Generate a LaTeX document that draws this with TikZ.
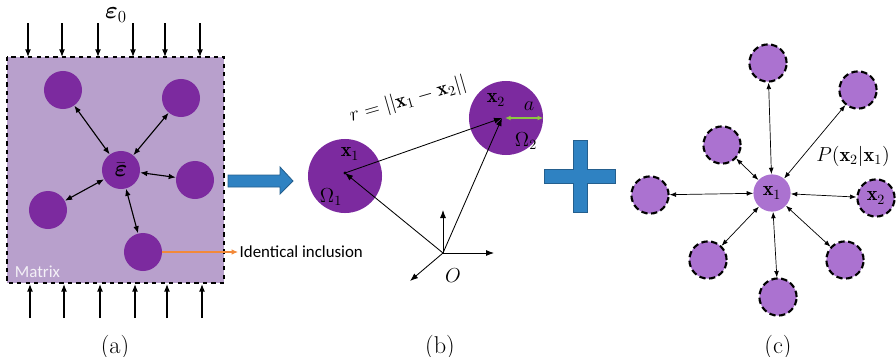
\documentclass[tikz,border=0pt]{standalone}
\usepackage{amsmath}
\usepackage{amssymb}
\usepackage{fontspec}
\newfontfamily\calfont{Carlito}
\usetikzlibrary{arrows.meta,positioning,calc}
\definecolor{matrixfill}{HTML}{B8A0CC}
\definecolor{deeppurple}{HTML}{7C2A9F}
\definecolor{lightpurple}{HTML}{AB72D0}
\definecolor{arrowblue}{HTML}{2F82C2}
\definecolor{arrowedge}{HTML}{245F8E}
\definecolor{orangeln}{HTML}{F2893A}
\definecolor{greenln}{HTML}{8DC641}
\tikzset{
  incl/.style={circle, fill=deeppurple, minimum size=0.95cm, inner sep=0pt},
  bigincl/.style={circle, fill=deeppurple, minimum size=1.85cm, inner sep=0pt},
  nbr/.style={circle, fill=lightpurple, draw=black, line width=1.5pt, dash pattern=on 4.5pt off 2.5pt, minimum size=0.93cm, inner sep=0pt},
  ctr/.style={circle, fill=lightpurple, minimum size=0.93cm, inner sep=0pt},
  load/.style={-{Latex[length=1.9mm,width=1.5mm]}, line width=.9pt},
  dar/.style={{Latex[length=1.8mm,width=1.4mm]}-{Latex[length=1.8mm,width=1.4mm]}, line width=.8pt},
  tar/.style={{Latex[length=1.6mm,width=1.2mm]}-{Latex[length=1.6mm,width=1.2mm]}, line width=.5pt},
  ar/.style={-{Latex[length=2mm,width=1.5mm]}, line width=.6pt},
  blueshape/.style={fill=arrowblue, draw=arrowedge, line width=.6pt},
  lbl/.style={font=\Large},
  captxt/.style={font=\LARGE},
}
\begin{document}
\begin{tikzpicture}[x=0.025cm, y=-0.025cm]
  \useasboundingbox (0,0) rectangle (896,356);

  % (a) matrix with inclusions
  \draw[fill=matrixfill, dashed, line width=.8pt] (7,57) rectangle (224,283);
  \foreach \x in {28,62,98,133,165,200} \draw[load] (\x,23) -- (\x,57);
  \foreach \x in {30,64,100,135,167,202} \draw[load] (\x,318) -- (\x,284);
  \node[font=\LARGE] (eps0) at (116,15) {$\boldsymbol{\varepsilon}_0$};
  \node[incl] (ec) at (121,170) {\LARGE$\bar{\boldsymbol{\varepsilon}}$};
  \node[incl] (i1) at (63,90) {};
  \node[incl] (i2) at (181,98) {};
  \node[incl] (i3) at (195,180) {};
  \node[incl] (i4) at (48,210) {};
  \node[incl] (i5) at (143,252) {};
  \foreach \n in {i1,i2,i3,i4,i5} \draw[dar] (ec) -- (\n);
  \node[font=\calfont\large, text=white!85!matrixfill, anchor=west] (mat) at (10,272) {Matrix};
  \node[font=\calfont\large, anchor=west, inner sep=1pt] (ident) at (238,252) {Identical inclusion};
  \draw[-{Latex[length=1.6mm,width=1.4mm]}, orangeln, line width=.8pt] (i5.east) -- (ident.west);

  % blue arrow
  \draw[blueshape] (228,175) -- (280,175) -- (280,167) -- (293,181) -- (280,194) -- (280,187) -- (228,187) -- cycle;

  % (b) two inclusions
  \node[bigincl] (om1) at (345,176) {};
  \node[bigincl] (om2) at (506,118) {};
  \coordinate (x1) at (345,173);
  \coordinate (x2) at (502,118);
  \coordinate (O) at (443,253);
  \coordinate (Oy) at (443,210);
  \coordinate (Ox) at (494,253);
  \coordinate (Oz) at (410,281);
  \draw[ar] (O) -- (Oy);
  \draw[ar] (O) -- (Ox);
  \draw[ar] (O) -- (Oz);
  \draw[ar] (O) -- (x1);
  \draw[ar] (O) -- (x2);
  \draw[ar] (x1) -- (x2);
  \fill (x1) circle (1.6);
  \draw[{Latex[length=1.4mm,width=1.2mm]}-{Latex[length=1.4mm,width=1.2mm]}, greenln, line width=.8pt] (505,118) -- (om2.east);
  \node[lbl] (la) at (529,106) {$a$};
  \node[lbl] (lx1) at (350,154) {$\mathbf{x}_1$};
  \node[lbl] (lom1) at (331,197) {$\Omega_1$};
  \node[lbl] (lx2) at (496,100) {$\mathbf{x}_2$};
  \node[lbl] (lom2) at (526,141) {$\Omega_2$};
  \node[lbl] (lO) at (453,276) {$O$};
  \node[lbl, rotate=16] (lr) at (408,100) {$r=||\mathbf{x}_1-\mathbf{x}_2||$};

  % plus sign
  \draw[blueshape] (573,140) -- (587,140) -- (587,169) -- (615,169) -- (615,183) -- (587,183) -- (587,212) -- (573,212) -- (573,183) -- (544,183) -- (544,169) -- (573,169) -- cycle;

  % (c) neighbours of x1
  \node[ctr] (cx1) at (772,193) {\Large$\mathbf{x}_1$};
  \node[nbr] (n1) at (768,63) {};
  \node[nbr] (n2) at (858,90) {};
  \node[nbr] (n3) at (722,145) {};
  \node[nbr] (n4) at (650,195) {};
  \node[nbr] (n5) at (876,198) {\Large$\mathbf{x}_2$};
  \node[nbr] (n6) at (708,260) {};
  \node[nbr] (n7) at (778,297) {};
  \node[nbr] (n8) at (845,260) {};
  \foreach \n in {n1,n2,n3,n4,n5,n6,n7,n8} \draw[tar] (cx1) -- (\n);
  \node[lbl] (lp) at (853,156) {$P(\mathbf{x}_2|\mathbf{x}_1)$};

  % captions
  \node[captxt] (ca) at (115,347) {(a)};
  \node[captxt] (cb) at (440,347) {(b)};
  \node[captxt] (cc) at (778,347) {(c)};
\end{tikzpicture}
\end{document}
